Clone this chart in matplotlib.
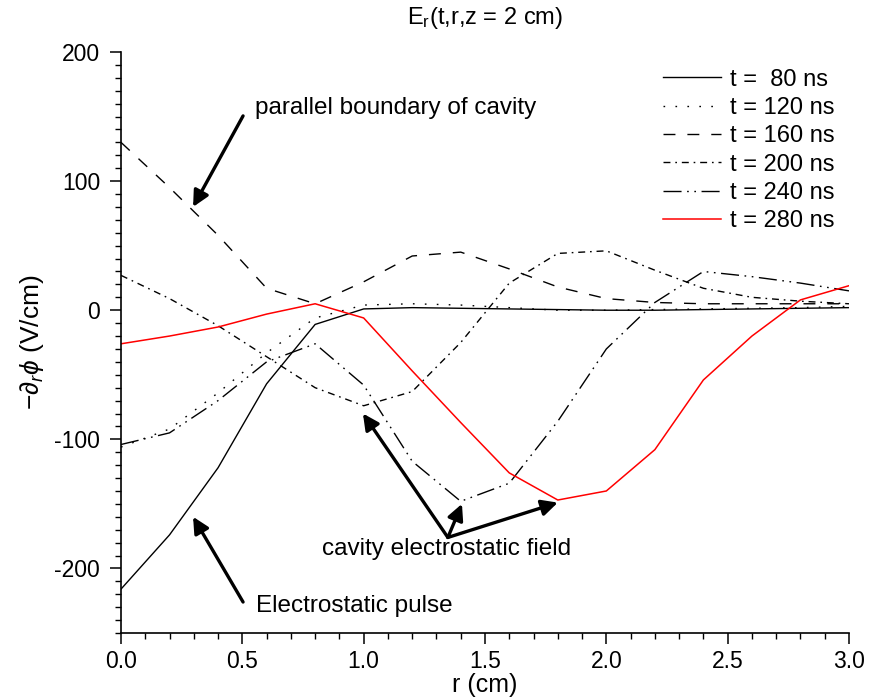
import matplotlib
matplotlib.use("Agg")
import matplotlib.pyplot as plt
from matplotlib.ticker import MultipleLocator

plt.rcParams['font.family'] = ['Liberation Sans', 'DejaVu Sans']
plt.rcParams['mathtext.fontset'] = 'custom'
plt.rcParams['mathtext.rm'] = 'Liberation Sans'
plt.rcParams['mathtext.it'] = 'Liberation Sans:italic'

# data
r = [0.0, 0.2, 0.4, 0.6, 0.8, 1.0, 1.2, 1.4, 1.6, 1.8, 2.0, 2.2, 2.4, 2.6, 2.8, 3.0]
t80 = [-216, -174, -122, -57, -11, 1, 2, 1.5, 1, 0.5, 0, 0, 0.5, 1, 1.5, 2]
t120 = [-106, -92, -64, -33, -6, 4, 5, 4, 2, 0, 0, 0.5, 1, 1.5, 2, 3]
t160 = [130, 95, 58, 17, 5, 22, 42, 45, 32, 18, 9, 6, 5, 5, 5, 5]
t200 = [27, 9, -12, -36, -60, -74, -63, -25, 21, 44, 46, 31, 17, 10, 7, 5]
t240 = [-104, -95, -70, -40, -26, -58, -117, -148, -134, -86, -30, 6, 30, 26, 21, 15]
t280 = [-26, -20, -13, -3, 5, -6, -47, -87, -126, -147, -140, -108, -54, -20, 8, 19]
labels = ['t =  80 ns', 't = 120 ns', 't = 160 ns', 't = 200 ns', 't = 240 ns', 't = 280 ns']

fig = plt.figure(figsize=(8.7, 6.98), dpi=100)
ax = fig.add_axes([121/870, 1-633/698, (849-121)/870, (633-52)/698])

lw = 1.0
ax.plot(r, t80, color='black', lw=lw, ls='-', label=labels[0])
ax.plot(r, t120, color='black', lw=lw, ls=(0, (1.2, 7.4)), label=labels[1])
ax.plot(r, t160, color='black', lw=lw, ls=(0, (8.6, 8.6)), label=labels[2])
ax.plot(r, t200, color='black', lw=lw, ls=(0, (5, 3.5, 1.2, 3.5)), label=labels[3])
ax.plot(r, t240, color='black', lw=lw, ls=(0, (13, 4, 1.2, 4, 1.2, 4)), label=labels[4])
ax.plot(r, t280, color='#ff0000', lw=1.1, ls='-', label=labels[5])

ax.set_xlim(0, 3.0)
ax.set_ylim(-250, 200)
ax.xaxis.set_major_locator(MultipleLocator(0.5))
ax.xaxis.set_minor_locator(MultipleLocator(0.1))
ax.yaxis.set_minor_locator(MultipleLocator(10))
ax.set_yticks([-200, -100, 0, 100, 200])
ax.set_yticklabels(['-200', '-100', '0', '100', '200'])
ax.xaxis.set_major_formatter(matplotlib.ticker.FormatStrFormatter('%.1f'))

for s in ['top', 'right']:
    ax.spines[s].set_visible(False)
for s in ['left', 'bottom']:
    ax.spines[s].set_linewidth(1.2)

ax.tick_params(which='major', direction='out', length=8, width=1.1, labelsize=16.5)
ax.tick_params(axis='y', which='major', pad=7)
ax.tick_params(axis='x', which='major', pad=4)
ax.tick_params(which='minor', direction='out', length=4.5, width=1.0)

ax.set_xlabel('r (cm)', fontsize=18, labelpad=0)
ax.set_ylabel(r'$-\partial_r\phi$ (V/cm)', fontsize=19, labelpad=6)
ax.set_title(r'$\mathregular{E_r}$(t,r,z = 2 cm)', fontsize=17, pad=20)

leg = ax.legend(loc='upper right', bbox_to_anchor=(1.003, 1.0), frameon=False, fontsize=17,
                handlelength=2.45, handletextpad=0.4, labelspacing=0.27, borderpad=0.2)

arrow_kw = dict(arrowstyle='-|>', color='black', lw=2.4, mutation_scale=24, shrinkA=0, shrinkB=0)
ax.annotate('', xy=(0.297, 80), xytext=(0.503, 150.5), arrowprops=arrow_kw)
ax.text(0.552, 156.5, 'parallel boundary of cavity', fontsize=17.5, va='center', ha='left')

ax.annotate('', xy=(0.297, -160), xytext=(0.503, -226), arrowprops=arrow_kw)
ax.text(0.556, -229.3, 'Electrostatic pulse', fontsize=17.5, va='center', ha='left')

junction = (1.347, -176)
ax.annotate('', xy=(0.997, -80), xytext=junction, arrowprops=arrow_kw)
ax.annotate('', xy=(1.405, -150), xytext=junction, arrowprops=arrow_kw)
ax.annotate('', xy=(1.80, -149), xytext=junction, arrowprops=arrow_kw)
ax.text(0.828, -185.1, 'cavity electrostatic field', fontsize=17.5, va='center', ha='left')

fig.savefig('out.png', dpi=100)
